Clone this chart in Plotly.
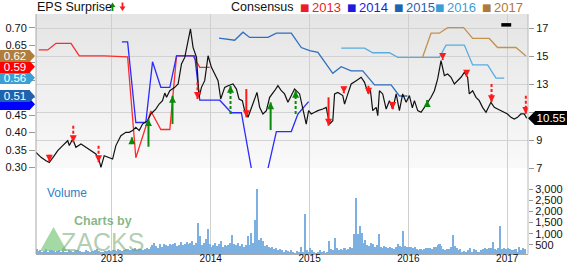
import plotly.graph_objects as go

FONT = "Liberation Sans, Arial, sans-serif"

# ---------------- data ----------------
year_ticks = [2013, 2014, 2015, 2016, 2017]
year_labels = ["2013", "2014", "2015", "2016", "2017"]
x_start, x_end = 2012.232, 2017.21

# closing price (right axis), time in decimal years
price_t = [2012.232, 2012.283, 2012.333, 2012.367, 2012.417, 2012.452, 2012.502, 2012.553, 2012.569, 2012.603,
           2012.636, 2012.687, 2012.737, 2012.788, 2012.838, 2012.872, 2012.889, 2012.922, 2012.973, 2013.007,
           2013.040, 2013.091, 2013.141, 2013.175, 2013.209, 2013.242, 2013.276, 2013.310, 2013.361, 2013.394,
           2013.444, 2013.478, 2013.512, 2013.535, 2013.553, 2013.586, 2013.636, 2013.670, 2013.704, 2013.737,
           2013.771, 2013.795, 2013.821, 2013.856, 2013.882, 2013.906, 2013.939, 2013.973, 2014.007, 2014.040,
           2014.074, 2014.101, 2014.141, 2014.175, 2014.225, 2014.260, 2014.286, 2014.320, 2014.343, 2014.377,
           2014.411, 2014.444, 2014.468, 2014.495, 2014.528, 2014.563, 2014.596, 2014.646, 2014.680, 2014.714,
           2014.747, 2014.781, 2014.815, 2014.848, 2014.899, 2014.932, 2014.966, 2014.990, 2015.017, 2015.051,
           2015.084, 2015.134, 2015.168, 2015.202, 2015.235, 2015.253, 2015.286, 2015.336, 2015.354, 2015.387,
           2015.421, 2015.472, 2015.522, 2015.556, 2015.589, 2015.616, 2015.639, 2015.674, 2015.690, 2015.707,
           2015.740, 2015.775, 2015.808, 2015.841, 2015.876, 2015.909, 2015.942, 2015.977, 2016.010, 2016.040,
           2016.061, 2016.094, 2016.128, 2016.162, 2016.195, 2016.229, 2016.263, 2016.296, 2016.330, 2016.364,
           2016.397, 2016.431, 2016.465, 2016.498, 2016.532, 2016.566, 2016.599, 2016.616, 2016.650, 2016.684,
           2016.717, 2016.750, 2016.785, 2016.835, 2016.869, 2016.902, 2016.936, 2016.970, 2017.003, 2017.037,
           2017.071, 2017.104, 2017.138, 2017.172, 2017.197]
price_v = [8.12, 7.76, 7.52, 7.40, 7.88, 8.24, 8.60, 8.95, 8.60, 9.07,
           8.48, 8.71, 8.48, 8.24, 8.00, 7.52, 7.05, 7.88, 7.76, 7.64,
           8.60, 9.31, 9.55, 9.55, 9.67, 9.90, 9.67, 10.14, 10.38, 10.86,
           11.21, 11.57, 11.81, 12.35, 12.05, 12.52, 12.76, 13.00, 14.43, 14.90,
           16.10, 16.93, 15.62, 14.90, 12.05, 12.76, 13.24, 15.02, 14.19, 13.71,
           13.24, 11.93, 12.76, 12.88, 13.00, 12.64, 11.93, 11.81, 11.10, 10.62,
           11.33, 12.05, 12.40, 11.33, 10.86, 11.10, 12.05, 12.52, 12.88, 12.52,
           12.29, 11.70, 12.17, 12.64, 12.29, 11.10, 10.14, 11.10, 10.86, 10.98,
           11.10, 11.21, 11.33, 10.14, 10.38, 12.29, 12.40, 12.17, 11.57, 12.29,
           13.00, 13.24, 13.48, 13.12, 12.40, 12.52, 11.10, 11.33, 10.74, 12.52,
           12.29, 11.21, 11.81, 11.21, 12.29, 11.10, 12.29, 11.70, 12.17, 11.30,
           11.81, 11.10, 10.98, 11.33, 11.69, 12.05, 12.52, 13.36, 14.67, 13.60,
           13.71, 13.48, 13.00, 13.24, 13.48, 13.83, 13.48, 12.29, 12.52, 12.05,
           11.81, 11.33, 10.98, 11.69, 11.33, 11.21, 11.10, 10.98, 10.86, 10.62,
           10.50, 10.62, 10.86, 10.86, 10.55]
last_price = 10.55

# consensus EPS estimates (left axis)
c2013_t = [2012.260, 2012.351, 2012.434, 2012.586, 2012.670, 2012.922, 2013.159, 2013.242, 2013.394, 2013.495,
           2013.586, 2013.654, 2013.821, 2013.889, 2013.990]
c2013_v = [0.637, 0.637, 0.656, 0.656, 0.620, 0.620, 0.617, 0.328, 0.462, 0.409,
           0.409, 0.620, 0.620, 0.587, 0.587]
c2014_t = [2013.101, 2013.159, 2013.242, 2013.343, 2013.411, 2013.495, 2013.586, 2013.654, 2013.838, 2013.889,
           2014.091, 2014.209, 2014.310, 2014.411, 2014.579, 2014.664, 2014.815, 2014.882, 2014.990]
c2014_v = [0.660, 0.660, 0.429, 0.429, 0.603, 0.530, 0.530, 0.620, 0.620, 0.493,
           0.493, 0.457, 0.457, 0.297, 0.297, 0.403, 0.403, 0.453, 0.489]
c2015_t = [2014.084, 2014.242, 2014.326, 2014.394, 2014.579, 2014.664, 2014.815, 2014.916, 2015.000, 2015.084,
           2015.235, 2015.320, 2015.421, 2015.538, 2015.657, 2015.825, 2015.909, 2015.990]
c2015_v = [0.671, 0.665, 0.688, 0.673, 0.673, 0.685, 0.685, 0.644, 0.635, 0.630,
           0.570, 0.589, 0.577, 0.577, 0.537, 0.537, 0.505, 0.505]
c2016_t = [2015.320, 2015.556, 2015.639, 2015.808, 2015.892, 2016.313, 2016.381, 2016.566, 2016.650, 2016.801,
           2016.886, 2016.970]
c2016_v = [0.642, 0.642, 0.629, 0.629, 0.616, 0.616, 0.651, 0.651, 0.594, 0.594,
           0.556, 0.556]
c2017_t = [2016.144, 2016.229, 2016.313, 2016.397, 2016.559, 2016.650, 2016.818, 2016.902, 2017.088, 2017.189]
c2017_v = [0.617, 0.685, 0.685, 0.701, 0.701, 0.670, 0.670, 0.644, 0.644, 0.620]
c2018_t = [2016.94, 2017.04]
c2018_v = [0.709, 0.709]

# current consensus tags (left); the 2014 tag sits almost fully hidden under the 2015 tag
tag_years = ["2014", "2015", "2016", "2013", "2017"]
tag_values = [0.49, 0.51, 0.56, 0.59, 0.62]
tag_shown = [False, True, True, True, True]

# EPS surprise arrows (price units)
surprise_t = [2012.367, 2012.609, 2012.865, 2013.202, 2013.370, 2013.613, 2013.866, 2014.200, 2014.360, 2014.606,
              2014.859, 2015.192, 2015.347, 2015.596, 2015.841, 2016.190, 2016.347, 2016.589, 2016.841, 2017.188]
surprise_tip = [7.45, 8.84, 7.41, 9.19, 10.50, 12.16, 11.93, 12.88, 10.62, 11.69,
                12.52, 10.02, 12.34, 12.24, 11.21, 11.86, 14.71, 13.52, 11.69, 10.86]
surprise_tail = [7.95, 10.02, 8.59, 8.71, 8.52, 10.14, 13.12, 10.86, 12.64, 9.71,
                 10.86, 12.05, 12.81, 12.88, 11.69, 11.52, 15.14, 13.95, 13.00, 12.16]
surprise_dir = ["down", "down", "down", "up", "up", "up", "down", "up", "down", "up",
                "up", "down", "down", "down", "down", "up", "down", "down", "down", "down"]
surprise_dashed = [True, True, True, False, False, False, True, True, False, False,
                   True, False, True, True, True, False, True, True, True, True]

# weekly volume (thousands)
vol_2012 = [300, 220, 260, 200, 240, 320, 180, 250, 280, 210, 190, 240, 260, 200, 230, 170, 200, 260, 230, 190,
            210, 250, 280, 220, 180, 200, 260, 230, 200, 240, 210, 270, 320, 230, 200, 180, 240, 210, 250, 230]
vol_2012_first_week = 12
vol_2013 = [250, 280, 220, 300, 260, 240, 280, 320, 300, 250, 280,
            300, 350, 280, 320, 300, 260, 330, 380, 300, 420,
            480, 600, 450, 380, 520, 420, 560, 500, 450, 550,
            480, 520, 600, 450, 500, 620, 480, 550, 640, 520,
            580, 680, 500, 600, 1500, 900, 480, 600, 750, 1200, 550]
vol_2014 = [400, 500, 600, 450, 550, 680, 400, 500, 450, 480,
            600, 950, 550, 500, 600, 450, 520, 400, 480, 900,
            500, 1050, 600, 1600, 3000, 700, 800, 680, 450, 500,
            400, 350, 420, 300, 380, 250, 300, 250, 200, 280,
            220, 180, 250, 200, 150, 230, 180, 400, 200, 1900,
            250, 180]
vol_2015 = [350, 250, 180, 150, 200, 250, 180, 220, 150, 200,
            680, 300, 250, 800, 350, 250, 300, 280, 350, 250,
            300, 400, 350, 1000, 2600, 1000, 1350, 1050, 600, 700,
            500, 450, 600, 550, 400, 500, 1000, 400, 350, 450,
            420, 380, 400, 350, 300, 400, 560, 450, 400, 1130,
            450, 420]
vol_2016 = [400, 420, 380, 400, 300, 280, 320, 260, 300, 350,
            380, 340, 330, 400, 400, 480, 520, 450, 300, 280,
            320, 300, 400, 950, 450, 380, 250, 300, 200, 220,
            180, 250, 380, 200, 300, 250, 200, 180, 250, 300,
            350, 320, 380, 360, 650, 300, 280, 350, 1350, 320,
            380, 300]
vol_2017 = [350, 300, 280, 250, 300, 200, 400, 280, 350, 300]

# tick values; labels hidden behind the tags are left blank
eps_ticks = [0.30, 0.35, 0.40, 0.45, 0.50, 0.55, 0.60, 0.65, 0.70]
eps_tick_text = ["0.30", "0.35", "0.40", "0.45", "", "", "", "0.65", "0.70"]
price_ticks = [7, 9, 11, 13, 15, 17]
price_tick_text = ["7", "9", "", "13", "15", "17"]
vol_ticks = [500, 1000, 1500, 2000, 2500, 3000]

# ---------------- styles ----------------
cons_colors = {"2013": "#ff2b2b", "2014": "#2b2bff", "2015": "#2f6fbf", "2016": "#58acdf", "2017": "#c2924f"}
legend_colors = {"2013": "#ee1c24", "2014": "#1c1cdc", "2015": "#1f63b3", "2016": "#3d9dd6", "2017": "#b07a36"}
tag_colors = {"2013": "#ff0000", "2014": "#0000ff", "2015": "#1f63b0", "2016": "#3aa0d4", "2017": "#b07d3a"}
tag_yshift = {"2014": -3, "2015": -2, "2016": -1, "2013": -0.5, "2017": 0}
RED = "#ff1a1a"
GREEN = "#0a8a0a"

fig = go.Figure()

# volume
vol_t, vol_v = [], []
for i, v in enumerate(vol_2012):
    vol_t.append(2012 + (vol_2012_first_week + i + 0.5) / 52)
    vol_v.append(v)
for yr, arr in [(2013, vol_2013), (2014, vol_2014), (2015, vol_2015), (2016, vol_2016), (2017, vol_2017)]:
    for i, v in enumerate(arr):
        vol_t.append(yr + (i + 0.5) / 52)
        vol_v.append(v)
fig.add_trace(go.Bar(x=vol_t, y=vol_v, yaxis="y3", width=0.85 / 52,
                     marker=dict(color="#7cb0e0", line=dict(width=0)), hoverinfo="skip"))

# consensus lines
for yr, tt, vv in [("2013", c2013_t, c2013_v), ("2014", c2014_t, c2014_v), ("2015", c2015_t, c2015_v),
                   ("2016", c2016_t, c2016_v), ("2017", c2017_t, c2017_v)]:
    fig.add_trace(go.Scatter(x=tt, y=vv, yaxis="y", mode="lines",
                             line=dict(color=cons_colors[yr], width=1.3)))
fig.add_trace(go.Scatter(x=c2018_t, y=c2018_v, yaxis="y", mode="lines",
                         line=dict(color="#000000", width=3.5)))

# price line
fig.add_trace(go.Scatter(x=price_t, y=price_v, yaxis="y2", mode="lines",
                         line=dict(color="#111111", width=1.2)))

# surprise arrow stems
for color_dir, color in [("down", RED), ("up", GREEN)]:
    for dashed in [False, True]:
        xs, ys = [], []
        for t, tip, tail, d, ds in zip(surprise_t, surprise_tip, surprise_tail, surprise_dir, surprise_dashed):
            if d == color_dir and ds == dashed:
                xs += [t, t, None]
                ys += [tail, tip, None]
        if xs:
            fig.add_trace(go.Scatter(x=xs, y=ys, yaxis="y2", mode="lines",
                                     line=dict(color=color, width=2, dash="3px,2px" if dashed else "solid")))
# surprise arrow heads
for d, color, sym in [("down", RED, "arrow-down"), ("up", GREEN, "arrow-up")]:
    xs = [t for t, dd in zip(surprise_t, surprise_dir) if dd == d]
    ys = [p for p, dd in zip(surprise_tip, surprise_dir) if dd == d]
    fig.add_trace(go.Scatter(x=xs, y=ys, yaxis="y2", mode="markers",
                             marker=dict(symbol=sym, size=7, color=color, line=dict(width=0))))

# ---------------- layout ----------------
PW, PH = 492.0, 240.0
price_bottom = (254 - 168) / PH
EPS_PER_PX = 0.4 / 139.5


def px(xp):
    return (xp - 36) / PW


def py(yp):
    return (254 - yp) / PH


shapes = []
# gradient background in the price area
n_bands = 22
for k in range(n_bands):
    f0 = k / n_bands
    f1 = (k + 1) / n_bands
    g = int(round(229 + (250 - 229) * f0))
    shapes.append(dict(type="rect", xref="paper", yref="paper", x0=0, x1=1,
                       y0=1 - (1 - price_bottom) * f1, y1=1 - (1 - price_bottom) * f0,
                       fillcolor=f"rgb({g},{g},{g})", line=dict(width=0), layer="below"))
# full-height side borders
shapes.append(dict(type="line", xref="paper", yref="paper", x0=0, x1=0, y0=0, y1=1,
                   line=dict(color="#a8a8a8", width=1)))
shapes.append(dict(type="line", xref="paper", yref="paper", x0=1, x1=1, y0=0, y1=1,
                   line=dict(color="#b8b8b8", width=1)))
# zacks logo triangle
shapes.append(dict(type="path", xref="paper", yref="paper",
                   path=f"M {px(40)},{py(251)} L {px(67)},{py(251)} L {px(53.5)},{py(227)} Z",
                   fillcolor="rgba(90,185,90,0.55)", line=dict(width=0), layer="below"))
# title legend arrows (green up, red down)
shapes.append(dict(type="path", xref="paper", yref="paper",
                   path=(f"M {px(109.5)},{py(7)} L {px(112.5)},{py(2.5)} L {px(115.5)},{py(7)} "
                         f"L {px(113.4)},{py(7)} L {px(113.4)},{py(11)} L {px(111.6)},{py(11)} "
                         f"L {px(111.6)},{py(7)} Z"),
                   fillcolor=GREEN, line=dict(width=0)))
shapes.append(dict(type="path", xref="paper", yref="paper",
                   path=(f"M {px(119.5)},{py(6.5)} L {px(122.5)},{py(11)} L {px(125.5)},{py(6.5)} "
                         f"L {px(123.4)},{py(6.5)} L {px(123.4)},{py(2.5)} L {px(121.6)},{py(2.5)} "
                         f"L {px(121.6)},{py(6.5)} Z"),
                   fillcolor=RED, line=dict(width=0)))

annotations = []
# left tags
for yr, val, shown in zip(tag_years, tag_values, tag_shown):
    h = 6 * EPS_PER_PX
    c = val + tag_yshift[yr] * EPS_PER_PX
    shapes.append(dict(type="path", xref="paper", yref="y",
                       path=f"M {-6.5/PW},{c + h} L {-1/PW},{c} L {-6.5/PW},{c - h} Z",
                       fillcolor=tag_colors[yr], line=dict(width=0)))
    annotations.append(dict(xref="paper", yref="y", x=-6 / PW, y=val, yshift=tag_yshift[yr],
                            xanchor="right", yanchor="middle",
                            text=f"{val:.2f}" if shown else " ", showarrow=False, bgcolor=tag_colors[yr],
                            width=30, height=12, borderpad=0, borderwidth=0, align="center",
                            font=dict(family=FONT, size=11.5, color="white")))
# right price tag
shapes.append(dict(type="path", xref="paper", yref="y2",
                   path=f"M {7/PW + 1},{last_price + 0.5} L {1},{last_price} L {7/PW + 1},{last_price - 0.5} Z",
                   fillcolor="#000000", line=dict(width=0)))
annotations.append(dict(xref="paper", yref="y2", x=1 + 6.5 / PW, y=last_price, xanchor="left", yanchor="middle",
                        text=f"{last_price:.2f}", showarrow=False, bgcolor="#000000", width=32, height=14,
                        borderpad=0, borderwidth=0, align="center",
                        font=dict(family=FONT, size=11.5, color="white")))

TY = py(7)
annotations += [
    dict(xref="paper", yref="paper", x=px(35), y=TY, xanchor="left", yanchor="middle", showarrow=False,
         text="EPS Surprise", font=dict(family=FONT, size=12.5, color="#111111")),
    dict(xref="paper", yref="paper", x=px(229), y=TY, xanchor="left", yanchor="middle", showarrow=False,
         text="Consensus", font=dict(family=FONT, size=12.5, color="#111111")),
]
leg_sq_x = {"2013": 304.5, "2014": 351.5, "2015": 398.5, "2016": 439.5, "2017": 486.5}
for yr in ["2013", "2014", "2015", "2016", "2017"]:
    annotations.append(dict(xref="paper", yref="paper", x=px(leg_sq_x[yr]), y=TY, xanchor="center",
                            yanchor="middle", showarrow=False, text="■",
                            font=dict(family="DejaVu Sans", size=10, color=legend_colors[yr])))
    annotations.append(dict(xref="paper", yref="paper", x=px(leg_sq_x[yr] + 5), y=TY, xanchor="left",
                            yanchor="middle", showarrow=False, text=yr,
                            font=dict(family=FONT, size=13, color=legend_colors[yr])))
annotations += [
    dict(xref="paper", yref="paper", x=px(45), y=py(193), xanchor="left", yanchor="middle",
         showarrow=False, text="Volume", font=dict(family=FONT, size=12, color="#2f7fc8")),
    dict(xref="paper", yref="paper", x=px(72), y=py(221), xanchor="left", yanchor="middle",
         showarrow=False, text="<b>Charts by</b>", font=dict(family=FONT, size=12.5, color="rgba(95,160,95,0.75)")),
    dict(xref="paper", yref="paper", x=px(59), y=py(242), xanchor="left", yanchor="middle", height=22,
         showarrow=False, text="ZACKS", font=dict(family=FONT, size=25, color="rgba(110,165,110,0.55)")),
]

fig.update_layout(
    width=567, height=264,
    margin=dict(l=36, r=39, t=14, b=10, pad=0, autoexpand=False),
    paper_bgcolor="white", plot_bgcolor="white",
    showlegend=False, bargap=0,
    font=dict(family=FONT, size=11, color="#222222"),
    xaxis=dict(range=[x_start, x_end], tickmode="array", tickvals=year_ticks, ticktext=year_labels,
               showgrid=True, gridcolor="#cfcfcf", gridwidth=1, zeroline=False, automargin=False,
               showline=True, linecolor="#a8a8a8", ticks="", anchor="y3", ticklabelstandoff=-5,
               tickfont=dict(family=FONT, size=10, color="#111111")),
    yaxis=dict(domain=[price_bottom, 1], range=[0.2986, 0.7401], tickmode="array", tickvals=eps_ticks,
               ticktext=eps_tick_text, showgrid=False, zeroline=False, showline=False, automargin=False,
               ticks="outside", ticklen=6, tickcolor="#999999", side="left",
               tickfont=dict(family=FONT, size=11, color="#111111")),
    yaxis2=dict(domain=[price_bottom, 1], range=[7, 18], overlaying="y", side="right", anchor="x",
                tickmode="array", tickvals=price_ticks, ticktext=price_tick_text, showgrid=True,
                gridcolor="#d2d2d2", zeroline=False, automargin=False,
                showline=False, ticks="outside", ticklen=5, tickcolor="#999999",
                tickfont=dict(family=FONT, size=11, color="#111111")),
    yaxis3=dict(domain=[0, price_bottom], range=[90, 3950], side="right", anchor="x",
                tickmode="array", tickvals=vol_ticks, tickformat=",d", showgrid=False, zeroline=False,
                showline=False, ticks="outside", ticklen=4, tickcolor="#999999", automargin=False,
                tickfont=dict(family=FONT, size=11, color="#111111")),
    shapes=shapes,
    annotations=annotations,
)

fig.write_html("out.html")
